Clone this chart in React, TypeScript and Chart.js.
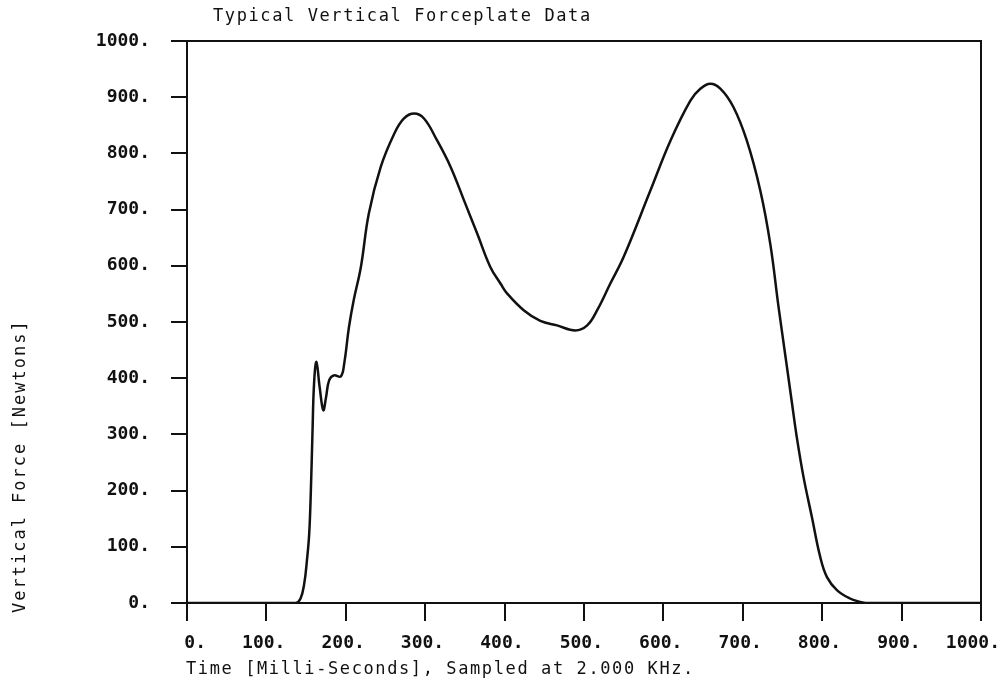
import React, { useEffect, useRef } from "react";
import { Chart, registerables } from "chart.js";

Chart.register(...registerables);

// Time in milliseconds (sampled curve)
const timeMs = [
  0, 100, 137, 143, 147.6, 151, 153.9, 156, 158, 160, 163, 167, 171.6, 175, 179, 185,
  193.7, 198, 204, 210, 219, 229, 244, 261, 273, 286, 298.5, 315, 332, 349, 365.6,
  382, 395, 403, 424, 445, 466, 489, 504, 516.6, 533, 550, 583.6, 609, 634, 646.5,
  659, 672, 688, 705, 722, 734.6, 745, 755.6, 762, 768, 776.5, 787, 797.5, 806,
  818.5, 835, 848, 855, 1000,
];

// Vertical force in Newtons
const forceN = [
  0, 0, 0, 8, 34, 75, 123, 200, 301, 390, 429, 385, 343, 365, 396, 405,
  403, 426, 491, 539, 598, 693, 776, 835, 862, 871, 862, 823, 776, 716, 657,
  598, 568, 551, 521, 502, 494, 485, 494, 521, 568, 616, 734, 823, 894, 915,
  924, 915, 883, 823, 734, 639, 527, 420, 355, 295, 224, 153, 82, 46,
  23, 8, 2, 0, 0,
];

const xTickValues = [0, 100, 200, 300, 400, 500, 600, 700, 800, 900, 1000];
const xTickLabels = ["0.", "100.", "200.", "300.", "400.", "500.", "600.", "700.", "800.", "900.", "1000."];
const yTickLabels = ["0.", "100.", "200.", "300.", "400.", "500.", "600.", "700.", "800.", "900.", "1000."];

const chartTitle = "Typical Vertical Forceplate Data";
const xAxisTitle = "Time [Milli-Seconds], Sampled at 2.000 KHz.";
const yAxisTitle = "Vertical Force [Newtons]";

const INK = "#111111";
const MONO = '"DejaVu Sans Mono", "Liberation Mono", monospace';

export default function App() {
  const ref = useRef<HTMLCanvasElement | null>(null);

  useEffect(() => {
    const canvas = ref.current;
    if (!canvas) return;

    const plotterText = {
      id: "plotterText",
      afterDraw(chart: any) {
        const ctx = chart.ctx as CanvasRenderingContext2D;
        const xs = chart.scales.x;
        const a = chart.chartArea;
        ctx.save();
        // frame: top and right edges
        ctx.strokeStyle = INK;
        ctx.lineWidth = 2;
        ctx.beginPath();
        ctx.moveTo(a.left, a.top);
        ctx.lineTo(a.right, a.top);
        ctx.lineTo(a.right, a.bottom);
        ctx.stroke();

        ctx.fillStyle = INK;
        ctx.font = `500 17px ${MONO}`;
        (ctx as any).letterSpacing = "1.6px";
        ctx.textBaseline = "alphabetic";
        ctx.textAlign = "left";
        ctx.fillText(chartTitle, 213, 21);
        ctx.fillText(xAxisTitle, 186, 674);

        ctx.save();
        ctx.translate(25, 613);
        ctx.rotate(-Math.PI / 2);
        (ctx as any).letterSpacing = "2px";
        ctx.fillText(yAxisTitle, 0, 0);
        ctx.restore();

        ctx.font = `bold 18px ${MONO}`;
        (ctx as any).letterSpacing = "0px";
        ctx.textAlign = "right";
        xTickValues.forEach((v, i) => {
          ctx.fillText(xTickLabels[i], xs.getPixelForValue(v) + 19, 648);
        });
        ctx.restore();
      },
    };

    const chart = new Chart(canvas, {
      type: "line",
      data: {
        datasets: [
          {
            data: timeMs.map((t, i) => ({ x: t, y: forceN[i] })),
            borderColor: INK,
            borderWidth: 2.5,
            pointRadius: 0,
            fill: false,
            tension: 0.4,
          },
        ],
      },
      options: {
        animation: false,
        responsive: false,
        maintainAspectRatio: false,
        layout: { padding: { top: 41, right: 20, left: 0, bottom: 0 } },
        plugins: {
          legend: { display: false },
          tooltip: { enabled: false },
          title: { display: false },
        },
        scales: {
          x: {
            type: "linear",
            min: 0,
            max: 1000,
            ticks: { stepSize: 100, display: false },
            grid: {
              display: true,
              drawOnChartArea: false,
              drawTicks: true,
              tickLength: 18,
              color: INK,
              lineWidth: 2,
            },
            border: { display: true, color: INK, width: 2 },
            afterFit: (s: any) => {
              s.height = 81;
            },
          },
          y: {
            type: "linear",
            min: 0,
            max: 1000,
            ticks: {
              stepSize: 100,
              padding: 21,
              color: INK,
              font: { family: MONO, size: 18, weight: "bold" },
              callback: (_v: any, i: number) => yTickLabels[i],
            },
            grid: {
              display: true,
              drawOnChartArea: false,
              drawTicks: true,
              tickLength: 16,
              color: INK,
              lineWidth: 2,
            },
            border: { display: true, color: INK, width: 2 },
            afterFit: (s: any) => {
              s.width = 187;
            },
          },
        },
      } as any,
      plugins: [plotterText],
    });

    return () => chart.destroy();
  }, []);

  return (
    <div style={{ position: "absolute", left: 0, top: 0, width: 1001, height: 684, background: "#fff" }}>
      <canvas ref={ref} width={1001} height={684} />
    </div>
  );
}
